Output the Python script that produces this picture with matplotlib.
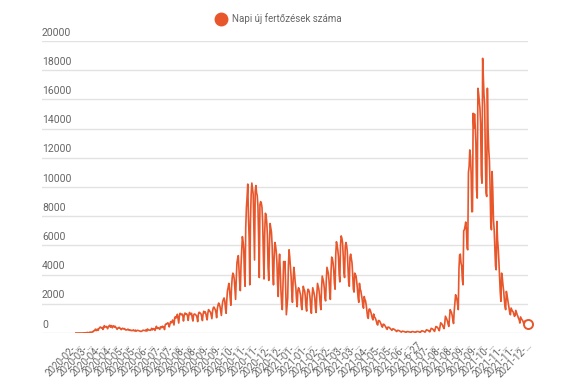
import matplotlib.pyplot as plt
from matplotlib.lines import Line2D
import numpy as np

plt.rcParams['font.family'] = ['Roboto', 'DejaVu Sans']

# daily new cases, one row = one week (Wed .. Tue), starting 2020-02-26
spring_2020 = [
    1, 0, 1, 1, 0, 0, 0,
    1, 0, 2, 4, 2, 3, 6,
    13, 10, 19, 38, 30, 16, 31,
    62, 31, 50, 70, 66, 143, 143,
    186, 263, 160, 235, 260, 180, 309,
    338, 410, 372, 350, 384, 243, 335,
    505, 428, 414, 452, 363, 290, 450,
    470, 530, 395, 512, 430, 356, 495,
    478, 402, 463, 391, 310, 252, 340,
    345, 387, 340, 300, 230, 284, 325,
    303, 268, 304, 236, 202, 215, 230,
    267, 200, 220, 180, 198, 161, 170,
    170, 216, 150, 145, 200, 125, 160,
    187, 169, 157, 143, 121, 107, 119,
]
summer_2020 = [
    142, 186, 190, 173, 168, 146, 233,
    135, 273, 214, 202, 190, 182, 223,
    320, 214, 279, 302, 250, 180, 320,
    460, 325, 312, 362, 300, 250, 422,
    398, 358, 467, 411, 432, 236, 555,
    615, 596, 664, 698, 600, 420, 602,
    777, 698, 767, 889, 720, 550, 1030,
    1120, 1030, 1100, 1280, 960, 680, 1150,
    1350, 1290, 1250, 1300, 1210, 820, 1170,
    1360, 1345, 1280, 1300, 1150, 860, 1240,
    1410, 1260, 1300, 1350, 1000, 820, 1230,
    1300, 1290, 1250, 1200, 1060, 780, 1280,
    1420, 1400, 1350, 1300, 1100, 850, 1300,
    1490, 1380, 1460, 1340, 1080, 900, 1350,
    1600, 1550, 1470, 1420, 1200, 980, 1500,
    1720, 1780, 1680, 1600, 1400, 1050, 1650,
]
autumn_2020 = [
    1900, 2050, 1960, 1800, 1500, 1200, 1800,
    2150, 2300, 2400, 2200, 1700, 1350, 2250,
    2900, 3100, 3400, 3000, 2400, 1900, 3100,
    3800, 4100, 4000, 3700, 3000, 2300, 3700,
    4800, 5100, 5300, 4400, 3500, 2900, 4600,
    5600, 6600, 6300, 5800, 4100, 3200, 7200,
    8600, 9300, 10200, 8000, 6500, 3300, 7700,
    9500, 10270, 9900, 9500, 7200, 5000, 9700,
    10100, 9600, 9400, 8700, 6600, 3800, 8800,
    9000, 8900, 8600, 7600, 5400, 3700, 6800,
    8200, 8100, 7600, 6700, 4500, 3600, 6000,
    7500, 7200, 6900, 6000, 4200, 3300, 5200,
    6200, 6000, 5600, 4900, 3400, 2500, 4700,
    5400, 4300, 2900, 2000, 1600, 3200, 4900,
    4600, 4900, 3200, 1250, 1800, 2400, 4600,
]
winter_2021 = [
    5700, 5200, 4500, 3900, 2800, 2100, 3600,
    4500, 4100, 3500, 3100, 2300, 1800, 2900,
    3100, 3000, 2800, 2600, 1900, 1600, 2500,
    3200, 3000, 2900, 2500, 1800, 1500, 2700,
    3000, 2950, 2800, 2400, 1700, 1350, 2500,
    3100, 2900, 2700, 2400, 1700, 1400, 2600,
    3400, 3200, 3000, 2600, 2000, 1600, 3000,
    3900, 3700, 3500, 3100, 2400, 2200, 3600,
    4500, 4300, 4100, 3600, 2800, 2300, 4200,
    5200, 5100, 4800, 4300, 3400, 3000, 5400,
    6250, 6000, 5700, 5200, 4000, 3500, 6000,
    6650, 6500, 6200, 5300, 4200, 3800, 5900,
    6200, 6000, 5600, 4600, 3500, 3200, 5200,
    5400, 5100, 4800, 4000, 3000, 2800, 4100,
    4000, 3900, 3500, 3000, 2400, 2100, 3400,
    3000, 2900, 2600, 2300, 1900, 1700, 2500,
    2300, 2200, 1900, 1500, 1100, 1000, 1600,
]
summer_2021 = [
    1650, 1550, 1400, 1200, 1000, 900, 1300,
    1100, 1050, 950, 800, 600, 550, 850,
    850, 800, 700, 600, 450, 400, 600,
    600, 550, 480, 400, 300, 250, 400,
    400, 380, 330, 280, 220, 180, 280,
    280, 260, 230, 190, 140, 100, 180,
    180, 170, 150, 120, 90, 60, 120,
    120, 110, 100, 80, 60, 40, 90,
    100, 90, 80, 70, 50, 30, 80,
    100, 95, 85, 70, 45, 30, 90,
    110, 105, 95, 80, 55, 40, 100,
    150, 140, 130, 110, 80, 60, 140,
    220, 200, 190, 160, 110, 80, 200,
    320, 300, 280, 230, 160, 110, 290,
    450, 420, 400, 330, 230, 160, 420,
    700, 650, 600, 500, 380, 300, 650,
    1150, 1050, 950, 800, 600, 450, 1000,
    1600, 1500, 1400, 1200, 900, 650, 1500,
]
autumn_2021 = [
    2100, 2620, 2500, 2300, 1940, 1600, 4400,
    5360, 5400, 4800, 4600, 3650, 3300, 7000,
    7070, 7300, 7600, 7100, 5800, 5700, 11000,
    11400, 12540, 12100, 10900, 8300, 8320, 15050,
    14030, 15000, 14200, 13000, 9800, 9240, 16760,
    16420, 15900, 15400, 14300, 10800, 10260, 18810,
    17500, 16300, 15600, 12000, 9600, 9350, 16760,
    14000, 12540, 11800, 9900, 7500, 7070, 11060,
    9700, 7750, 7100, 5900, 4600, 4330, 7640,
    6400, 5800, 4900, 3800, 2800, 2170, 4100,
    3800, 3300, 2900, 2300, 1800, 1600, 2850,
    2600, 2300, 2000, 1700, 1400, 1250, 1710,
    1600, 1500, 1450, 1300, 1140, 1200, 1550,
    1400, 1250, 1150, 1000, 900, 680, 1100,
    1000, 910, 860, 750, 600, 570, 850,
    800, 760, 700, 640,
]

y_ticks = [0, 2000, 4000, 6000, 8000, 10000, 12000, 14000, 16000, 18000, 20000]
x_labels = [
    "2020-02-…", "2020-03-…", "2020-04-…", "2020-04-…", "2020-05-…", "2020-05-…",
    "2020-06-…", "2020-07-…", "2020-07-…", "2020-08-…", "2020-08-…", "2020-09-…",
    "2020-09-…", "2020-10-…", "2020-11-…", "2020-11-…", "2020-12-…", "2020-12-…",
    "2021-01-…", "2021-01-…", "2021-02-…", "2021-02-…", "2021-03-…", "2021-03-…",
    "2021-04-…", "2021-05-…", "2021-05-…", "2021-06-…", "2021-6-27", "2021-07-…",
    "2021-08-…", "2021-08-…", "2021-09-…", "2021-09-…", "2021-10-…", "2021-11-…",
    "2021-11-…", "2021-12-…",
]
series_name = "Napi új fertőzések száma"

values = np.array(spring_2020 + summer_2020 + autumn_2020 + winter_2021 + summer_2021 + autumn_2021)
days = np.arange(len(values))

color = '#e8572c'
grey = '#666666'

fig = plt.figure(figsize=(5.8, 3.85), dpi=100)
ax = fig.add_axes([42 / 580, 52 / 385, 486 / 580, 292 / 385])

for yv in y_ticks:
    ax.axhline(yv, color='#e2e2e2', lw=1, zorder=0)
    ax.annotate(str(yv), (0, yv), xycoords=('axes fraction', 'data'), xytext=(0, 2.5),
                textcoords='offset points', ha='left', va='bottom', fontsize=7.5,
                color=grey, annotation_clip=False)

ax.plot(days, values, color=color, lw=1.2, zorder=3)
ax.plot(days[-1], values[-1], 'o', mfc='white', mec=color, mew=1.4, ms=6.5,
        clip_on=False, zorder=4)

ax.set_xlim(-50, len(values) - 1)
ax.set_ylim(0, 20000)
for s in ax.spines.values():
    s.set_visible(False)
ax.set_yticks([])
ax.set_xticks(np.arange(0, len(values), 18)[:len(x_labels)])
ax.set_xticklabels(x_labels, rotation=45, ha='right', rotation_mode='anchor',
                   fontsize=7, color=grey)
ax.tick_params(axis='x', length=0, pad=5)

handle = Line2D([], [], marker='o', ls='', color=color, ms=9)
fig.legend([handle], [series_name], loc='center', bbox_to_anchor=(0.48, 0.951),
           frameon=False, fontsize=7, labelcolor=grey, handletextpad=0.6,
           handlelength=1.2)

fig.savefig('out.png', dpi=100)
